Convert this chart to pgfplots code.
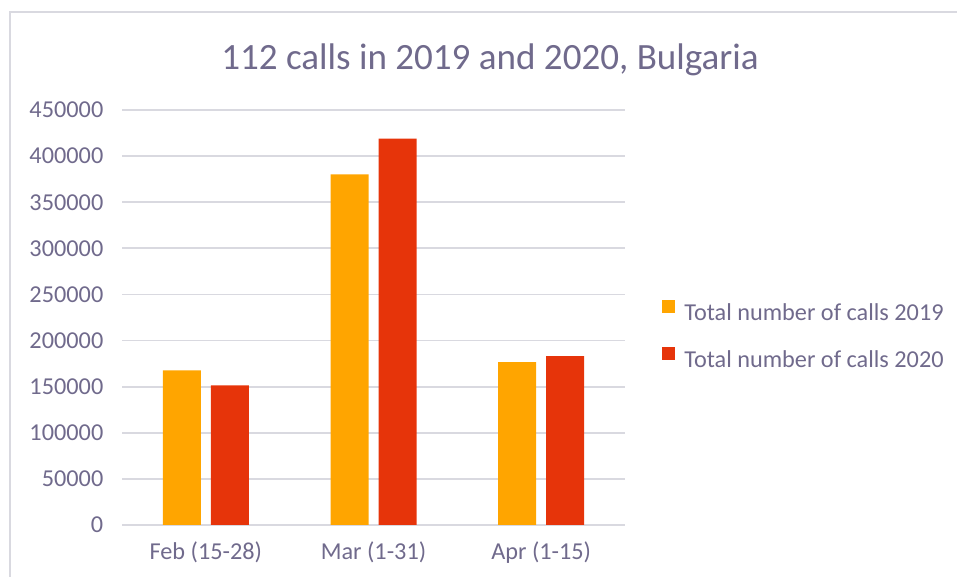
\documentclass[border=0pt]{standalone}
\usepackage{fontspec}
\setmainfont{Carlito}
\usepackage{pgfplots}
\pgfplotsset{compat=1.18}
\definecolor{txt}{RGB}{112,106,140}
\definecolor{c19}{RGB}{255,165,0}
\definecolor{c20}{RGB}{230,52,10}
\definecolor{gridc}{RGB}{217,217,224}
\begin{document}
\begin{tikzpicture}
\useasboundingbox (0,0) rectangle (717.75pt,432.75pt);
\draw[gridc, line width=1pt] (7.5pt,-10pt) -- (7.5pt,423.75pt) -- (740pt,423.75pt);
\node[anchor=base, font=\fontsize{27.8}{33}\selectfont, text=txt] at (367.5pt,380.25pt) {112 calls in 2019 and 2020, Bulgaria};
\begin{axis}[
  at={(91.5pt,39pt)}, anchor=south west,
  scale only axis, width=377.25pt, height=311.25pt,
  ybar=7.5pt, bar width=28.5pt,
  xmin=-0.5, xmax=2.5, ymin=0, ymax=450000,
  xtick=data, xticklabels={Feb (15-28), Mar (1-31), Apr (1-15)},
  ytick={0,50000,...,450000},
  scaled y ticks=false,
  /pgf/number format/assume math mode=true,
  yticklabel style={/pgf/number format/fixed, /pgf/number format/1000 sep={}, xshift=-10.5pt},
  xticklabel style={yshift=-9pt},
  tick label style={font=\fontsize{18.2}{21}\selectfont, text=txt},
  major tick length=0pt,
  axis line style={draw=none},
  ymajorgrids, major grid style={gridc, line width=1.3pt},
  legend style={at={(1.0645,0.455)}, anchor=west, draw=none, fill=none,
    font=\fontsize{18.2}{21}\selectfont, text=txt, row sep=16.5pt,
    /tikz/every odd column/.append style={column sep=5pt}},
  legend cell align=left,
  legend image code/.code={\fill[#1] (0pt,0pt) rectangle (10pt,9.5pt);},
]
\addplot[fill=c19, draw=none] coordinates {(0,167600) (1,380200) (2,176600)};
\addplot[fill=c20, draw=none] coordinates {(0,151300) (1,418900) (2,183100)};
\legend{Total number of calls 2019, Total number of calls 2020}
\end{axis}
\end{tikzpicture}
\end{document}
